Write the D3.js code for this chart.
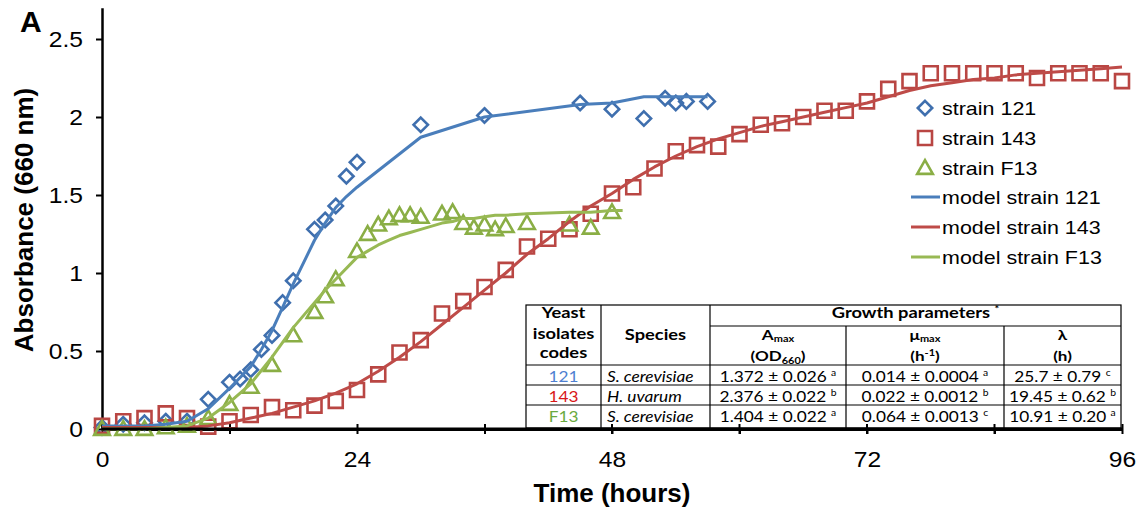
<!DOCTYPE html>
<html>
<head>
<meta charset="utf-8">
<script src="https://cdn.jsdelivr.net/npm/d3@7"></script>
<style>
  body { margin: 0; background: #fff; }
  svg { display: block; }
</style>
</head>
<body>
<svg id="chart"></svg>
<script>
// strain 121 (observed + model)
var time121  = [0,2,4,6,8,10,12,13,14,15,16,17,18,20,21,22,23,24,30,36,45,48,51,53,54,55,57];
var abs121   = [0.01,0.03,0.04,0.05,0.05,0.19,0.30,0.32,0.38,0.51,0.60,0.81,0.95,1.28,1.34,1.43,1.62,1.71,1.95,2.01,2.09,2.05,1.99,2.12,2.09,2.10,2.10];
var model121 = [0.02,0.02,0.02,0.03,0.05,0.13,0.26,0.33,0.40,0.51,0.63,0.78,0.93,1.21,1.32,1.42,1.49,1.55,1.87,2.00,2.08,2.09,2.13,2.13,2.13,2.13,2.13];

// strain 143
var time143  = [0,2,4,6,8,10,12,14,16,18,20,22,24,26,28,30,32,34,36,38,40,42,44,46,48,50,52,54,56,58,60,62,64,66,68,70,72,74,76,78,80,82,84,86,88,90,92,94,96];
var abs143   = [0.02,0.05,0.07,0.10,0.07,0.015,0.05,0.09,0.14,0.12,0.15,0.18,0.25,0.35,0.49,0.57,0.74,0.82,0.91,1.02,1.17,1.22,1.28,1.38,1.51,1.55,1.67,1.78,1.82,1.81,1.89,1.95,1.96,2.00,2.04,2.04,2.10,2.18,2.23,2.28,2.28,2.28,2.28,2.28,2.25,2.28,2.28,2.28,2.23];
var model143 = [0.01,0.01,0.01,0.01,0.01,0.02,0.04,0.07,0.10,0.14,0.18,0.23,0.29,0.37,0.46,0.56,0.67,0.78,0.89,1.00,1.12,1.22,1.33,1.43,1.51,1.60,1.68,1.75,1.81,1.86,1.90,1.94,1.97,2.00,2.03,2.06,2.09,2.13,2.17,2.20,2.22,2.24,2.25,2.27,2.28,2.29,2.30,2.31,2.32];

// strain F13
var timeF13  = [0,2,4,6,8,10,12,14,16,18,20,21,22,24,25,26,27,28,29,30,32,33,34,35,36,37,38,40,44,46,48];
var absF13   = [0.00,0.00,0.00,0.01,0.02,0.07,0.16,0.27,0.41,0.60,0.75,0.85,0.96,1.14,1.25,1.31,1.35,1.37,1.37,1.36,1.38,1.39,1.32,1.29,1.31,1.28,1.30,1.32,1.31,1.29,1.39];
var modelTimeF13 = [0,2,4,6,8,10,12,14,16,18,20,21,22,24,25,26,27,28,29,30,32,33,34,35,36,37,38,40,44,46,48,49];
var modelF13 = [0.00,0.00,0.00,0.01,0.02,0.07,0.17,0.29,0.46,0.65,0.81,0.89,0.96,1.10,1.14,1.18,1.21,1.24,1.26,1.28,1.32,1.33,1.35,1.35,1.36,1.37,1.37,1.38,1.39,1.39,1.40,1.40];

var xTicks = [0,12,24,36,48,60,72,84,96];
var yTicks = [0,0.5,1,1.5,2,2.5];

var legendLabels = ["strain 121","strain 143","strain F13","model strain 121","model strain 143","model strain F13"];

// table
var tableCodes   = ["121","143","F13"];
var tableSpecies = ["S. cerevisiae","H. uvarum","S. cerevisiae"];
var tableAmax    = ["1.372 ± 0.026","2.376 ± 0.022","1.404 ± 0.022"];
var tableAmaxSup = ["a","b","a"];
var tableMu      = ["0.014 ± 0.0004","0.022 ± 0.0012","0.064 ± 0.0013"];
var tableMuSup   = ["a","b","c"];
var tableLag     = ["25.7 ± 0.79","19.45 ± 0.62","10.91 ± 0.20"];
var tableLagSup  = ["c","b","a"];
var tableCodeColors = ["#4F7FD0","#D81818","#6AAA40"];

var width = 1142, height = 513;
var blue = "#4A7EBB", red = "#BE4B48", green = "#98B954";
var blueMk = "#3F6FAE", redMk = "#B94643", greenMk = "#8AAE45";

var svg = d3.select("#chart").attr("width", width).attr("height", height);

var x = d3.scaleLinear().domain([0, 96]).range([102, 1122]);
var y = d3.scaleLinear().domain([0, 2.7]).range([429, 7.8]);

var font = "'Liberation Sans', Arial, sans-serif";

// stretch helper: text in the picture is a bit wider than tall
function stretch(sel, sx) {
  sel.each(function() {
    var t = d3.select(this);
    var tx = +t.attr("x") || 0, ty = +t.attr("y") || 0;
    t.attr("x", null).attr("y", null)
     .attr("transform", "translate(" + tx + "," + ty + ") scale(" + sx + ",1)");
  });
}

// y axis
var yAxis = svg.append("g")
  .attr("transform", "translate(" + x(0) + ",0)")
  .call(d3.axisLeft(y).tickValues(yTicks).tickSize(6).tickSizeOuter(0).tickFormat(d3.format("~g")));
yAxis.select(".domain").attr("stroke", "#000").attr("stroke-width", 2.5);
yAxis.selectAll(".tick line").attr("stroke", "#000").attr("stroke-width", 2);
yAxis.selectAll(".tick text")
  .attr("font-family", font).attr("font-size", 22).attr("fill", "#000")
  .attr("dy", "0.36em");
yAxis.selectAll(".tick text").each(function() {
  d3.select(this).attr("x", -17).attr("transform", "scale(1.12,1)");
});

// x axis
var xAxis = svg.append("g")
  .attr("transform", "translate(0," + y(0) + ")")
  .call(d3.axisBottom(x).tickValues(xTicks).tickSize(5).tickSizeOuter(0)
    .tickFormat(function(d) { return d % 24 === 0 ? d : ""; }));
xAxis.select(".domain").attr("stroke", "#000").attr("stroke-width", 3);
xAxis.selectAll(".tick line").attr("stroke", "#000").attr("stroke-width", 2).attr("y1", -5);
xAxis.selectAll(".tick text")
  .attr("font-family", font).attr("font-size", 22).attr("fill", "#000")
  .attr("y", 38).attr("dy", 0).attr("transform", "scale(1.12,1)");
xAxis.selectAll(".tick").each(function(d) {
  d3.select(this).select("text").attr("x", 0);
});

// axis titles
svg.append("text")
  .attr("x", 612).attr("y", 502)
  .attr("text-anchor", "middle")
  .attr("font-family", font).attr("font-weight", "bold").attr("font-size", 26)
  .text("Time (hours)");
svg.append("text")
  .attr("transform", "translate(33,220) rotate(-90)")
  .attr("text-anchor", "middle")
  .attr("font-family", font).attr("font-weight", "bold").attr("font-size", 26)
  .text("Absorbance (660 nm)");
svg.append("text")
  .attr("x", 20).attr("y", 32)
  .attr("font-family", font).attr("font-weight", "bold").attr("font-size", 30)
  .text("A");

// marker shapes
function diamond(s) { return "M0," + (-s) + "L" + s + ",0L0," + s + "L" + (-s) + ",0Z"; }
function square(s) { return "M" + (-s) + "," + (-s) + "H" + s + "V" + s + "H" + (-s) + "Z"; }
function triangle(s) { return "M0," + (-s) + "L" + s + "," + (s * 0.75) + "L" + (-s) + "," + (s * 0.75) + "Z"; }

var markers = [
  { t: time121, v: abs121, path: diamond(7.2), color: blueMk },
  { t: time143, v: abs143, path: square(7), color: redMk },
  { t: timeF13, v: absF13, path: triangle(7.8), color: greenMk }
];

markers.forEach(function(s) {
  svg.append("g").selectAll("path")
    .data(s.t)
    .enter().append("path")
    .attr("transform", function(d, i) { return "translate(" + x(d) + "," + y(s.v[i]) + ")"; })
    .attr("d", s.path)
    .attr("fill", "none")
    .attr("stroke", s.color)
    .attr("stroke-width", 2.6);
});

var models = [
  { t: time121, v: model121, color: blue },
  { t: time143, v: model143, color: red },
  { t: modelTimeF13, v: modelF13, color: green }
];

var line = d3.line()
  .x(function(d) { return x(d[0]); })
  .y(function(d) { return y(d[1]); });

models.forEach(function(m) {
  svg.append("path")
    .datum(m.t.map(function(t, i) { return [t, m.v[i]]; }))
    .attr("d", line)
    .attr("fill", "none")
    .attr("stroke", m.color)
    .attr("stroke-width", 3)
    .attr("stroke-linejoin", "round");
});

// legend
var legend = svg.append("g");
var legendRows = [108, 138, 168, 197, 227, 257];
legendLabels.forEach(function(lbl, i) {
  var ly = legendRows[i];
  if (i < 3) {
    legend.append("path")
      .attr("transform", "translate(925," + ly + ")")
      .attr("d", markers[i].path)
      .attr("fill", "none")
      .attr("stroke", markers[i].color)
      .attr("stroke-width", 2.6);
  } else {
    legend.append("line")
      .attr("x1", 911).attr("x2", 940).attr("y1", ly).attr("y2", ly)
      .attr("stroke", models[i - 3].color).attr("stroke-width", 3);
  }
  legend.append("text")
    .attr("x", 942).attr("y", ly + 7)
    .attr("font-family", font).attr("font-size", 19)
    .text(lbl)
    .call(stretch, 1.13);
});

// table
var tfont = "Lato, 'Open Sans', sans-serif";
var colX = [526, 601, 710, 846, 1004, 1121];
var rowY = [305, 326, 365, 385, 405, 428];
var tbl = svg.append("g");
tbl.append("rect")
  .attr("x", colX[0]).attr("y", rowY[0])
  .attr("width", colX[5] - colX[0]).attr("height", rowY[5] - rowY[0])
  .attr("fill", "#fff").attr("stroke", "#000").attr("stroke-width", 1.2);
// vertical lines
colX.slice(1, 5).forEach(function(cx, i) {
  tbl.append("line")
    .attr("x1", cx).attr("x2", cx)
    .attr("y1", i >= 2 ? rowY[1] : rowY[0]).attr("y2", rowY[5])
    .attr("stroke", "#000").attr("stroke-width", 1.2);
});
// horizontal lines
tbl.append("line").attr("x1", colX[2]).attr("x2", colX[5]).attr("y1", rowY[1]).attr("y2", rowY[1])
  .attr("stroke", "#000").attr("stroke-width", 1.2);
rowY.slice(2, 5).forEach(function(ry) {
  tbl.append("line").attr("x1", colX[0]).attr("x2", colX[5]).attr("y1", ry).attr("y2", ry)
    .attr("stroke", "#000").attr("stroke-width", 1.2);
});

function ttext(tx, ty, str, opts) {
  opts = opts || {};
  var t = tbl.append("text")
    .attr("x", tx).attr("y", ty)
    .attr("text-anchor", opts.anchor || "middle")
    .attr("font-family", tfont)
    .attr("font-size", opts.size || 15)
    .attr("font-weight", opts.bold ? "bold" : "normal")
    .attr("font-style", opts.italic ? "italic" : "normal")
    .attr("fill", opts.color || "#000")
    .text(str);
  t.call(stretch, opts.sx || 1.15);
  return t;
}

var c1 = (colX[0] + colX[1]) / 2, c2 = (colX[1] + colX[2]) / 2;
var c3 = (colX[2] + colX[3]) / 2, c4 = (colX[3] + colX[4]) / 2, c5 = (colX[4] + colX[5]) / 2;

var hd = { bold: true, size: 15, sx: 1.22 };
var hd2 = { bold: true, size: 14, sx: 1.22 };
ttext(c1, 318, "Yeast", hd);
ttext(c1, 338.5, "isolates", hd);
ttext(c1, 358, "codes", hd);
ttext(c2, 340, "Species", hd);
var gp = ttext((colX[2] + colX[5]) / 2, 318, "Growth parameters ", hd);
gp.append("tspan").attr("font-size", 9).attr("dy", -6).text("*");

var am = ttext(c3, 340, "A", hd2);
am.append("tspan").attr("font-size", 9).attr("dy", 2).text("max");
var od = ttext(c3, 361, "(OD", hd2);
od.append("tspan").attr("font-size", 9).attr("dy", 3).text("660");
od.append("tspan").attr("dy", -3).text(")");

var mu = ttext(c4, 340, "μ", hd2);
mu.append("tspan").attr("font-size", 9).attr("dy", 2).text("max");
var hh = ttext(c4, 361, "(h", hd2);
hh.append("tspan").attr("font-size", 9).attr("dy", -5).text("-1");
hh.append("tspan").attr("dy", 5).text(")");

ttext(c5, 340, "λ", hd2);
ttext(c5, 361, "(h)", hd2);

var rowBase = [381.5, 401.5, 421.5];
tableCodes.forEach(function(code, i) {
  var by = rowBase[i];
  ttext(c1, by, code, { color: tableCodeColors[i] });
  ttext(colX[1] + 6, by, tableSpecies[i], { italic: true, anchor: "start" });
  var a = ttext(c3, by, tableAmax[i] + " ");
  a.append("tspan").attr("font-size", 9).attr("dy", -6).text(tableAmaxSup[i]);
  var m = ttext(c4, by, tableMu[i] + " ");
  m.append("tspan").attr("font-size", 9).attr("dy", -6).text(tableMuSup[i]);
  var l = ttext(c5, by, tableLag[i] + " ");
  l.append("tspan").attr("font-size", 9).attr("dy", -6).text(tableLagSup[i]);
});

// redraw x axis line over table bottom
svg.append("line")
  .attr("x1", x(0)).attr("x2", x(96)).attr("y1", y(0)).attr("y2", y(0))
  .attr("stroke", "#000").attr("stroke-width", 3);
svg.append("g").selectAll("line")
  .data(xTicks.filter(function(d) { return x(d) > colX[0] && x(d) < colX[5]; }))
  .enter().append("line")
  .attr("x1", function(d) { return x(d); }).attr("x2", function(d) { return x(d); })
  .attr("y1", y(0) - 5).attr("y2", y(0) + 5)
  .attr("stroke", "#000").attr("stroke-width", 2);
</script>
</body>
</html>
